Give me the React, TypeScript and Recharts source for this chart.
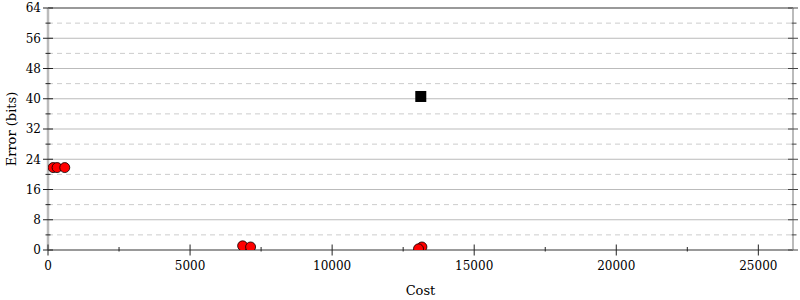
import { ScatterChart, Scatter, XAxis, YAxis, ReferenceLine } from "recharts";

// values
const redCost = [180, 320, 590, 6850, 7130, 13160, 13040];
const redError = [21.8, 21.8, 21.8, 1.1, 0.8, 0.8, 0.3];
const blackCost = [13120];
const blackError = [40.6];

const xTicks = [0, 2500, 5000, 7500, 10000, 12500, 15000, 17500, 20000, 22500, 25000];
const yTicks = [0, 4, 8, 12, 16, 20, 24, 28, 32, 36, 40, 44, 48, 52, 56, 60, 64];
const majorGrid = [8, 16, 24, 32, 40, 48, 56];
const minorGrid = [4, 12, 20, 28, 36, 44, 52, 60];

const redData = redCost.map((cost, i) => ({ cost, error: redError[i] }));
const blackData = blackCost.map((cost, i) => ({ cost, error: blackError[i] }));

function LeftTick(props: any) {
  const { x, y, payload } = props;
  const major = payload.value % 8 === 0;
  const ax = x + 7;
  const h = major ? 5 : 2.5;
  return (
    <g>
      <line x1={ax - h} x2={ax + h} y1={y} y2={y} stroke="#222" />
      {major && (
        <text x={x} y={y} dy={4.3} textAnchor="end" fontSize={12} fill="#000">
          {payload.value}
        </text>
      )}
    </g>
  );
}

function RightTick(props: any) {
  const { x, y, payload } = props;
  const major = payload.value % 8 === 0;
  return (
    <line
      x1={major ? x - 5 : x - 1.5}
      x2={major ? x + 5 : x + 3.5}
      y1={y}
      y2={y}
      stroke="#444"
    />
  );
}

function BottomTick(props: any) {
  const { x, y, payload } = props;
  const major = payload.value % 5000 === 0;
  const ay = y - 10;
  return (
    <g>
      <line
        x1={x}
        x2={x}
        y1={major ? ay - 5.5 : ay - 3}
        y2={major ? ay + 5.5 : ay + 1.5}
        stroke="#222"
      />
      {major && (
        <text x={x} y={ay + 19.5} textAnchor="middle" fontSize={12} fill="#000">
          {payload.value}
        </text>
      )}
    </g>
  );
}

export default function App() {
  return (
    <div style={{ position: "absolute", left: 0, top: 0, fontFamily: "DejaVu Serif" }}>
      <ScatterChart width={800} height={300} margin={{ top: 8, right: 0, bottom: 0, left: 0 }}>
        <XAxis
          dataKey="cost"
          type="number"
          domain={[0, 26220]}
          ticks={xTicks}
          interval={0}
          height={50}
          tickSize={0}
          tickMargin={10}
          tickLine={false}
          tick={<BottomTick />}
          axisLine={{ stroke: "#999", strokeWidth: 2 }}
          allowDataOverflow
          label={{ value: "Cost", position: "insideBottom", offset: 5, fontSize: 13, fill: "#000" }}
        />
        <YAxis
          dataKey="error"
          type="number"
          domain={[0, 64]}
          ticks={yTicks}
          interval={0}
          width={48}
          tickSize={0}
          tickMargin={7}
          tickLine={false}
          tick={<LeftTick />}
          axisLine={{ stroke: "#bbb", strokeWidth: 2.5 }}
          allowDataOverflow
          label={{
            value: "Error (bits)",
            angle: -90,
            position: "insideLeft",
            offset: 11,
            fontSize: 13,
            fill: "#000",
            style: { textAnchor: "middle" },
          }}
        />
        <YAxis
          yAxisId="r"
          orientation="right"
          type="number"
          domain={[0, 64]}
          ticks={yTicks}
          interval={0}
          width={7}
          tickSize={0}
          tickMargin={0}
          tickLine={false}
          tick={<RightTick />}
          axisLine={{ stroke: "#bbb", strokeWidth: 2 }}
          allowDataOverflow
        />
        {majorGrid.map((v) => (
          <ReferenceLine key={"M" + v} y={v} stroke="#bbb" strokeWidth={1} />
        ))}
        {minorGrid.map((v) => (
          <ReferenceLine key={"m" + v} y={v} stroke="#ccc" strokeWidth={1} strokeDasharray="5 4" />
        ))}
        <ReferenceLine y={64} stroke="#999" strokeWidth={2} />
        <Scatter
          data={redData}
          isAnimationActive={false}
          shape={(p: any) => (
            <circle cx={p.cx} cy={p.cy} r={5} fill="#f00" stroke="#000" strokeWidth={0.8} />
          )}
        />
        <Scatter
          data={blackData}
          isAnimationActive={false}
          shape={(p: any) => (
            <rect x={p.cx - 5.5} y={p.cy - 5.5} width={11} height={11} fill="#000" />
          )}
        />
      </ScatterChart>
    </div>
  );
}
